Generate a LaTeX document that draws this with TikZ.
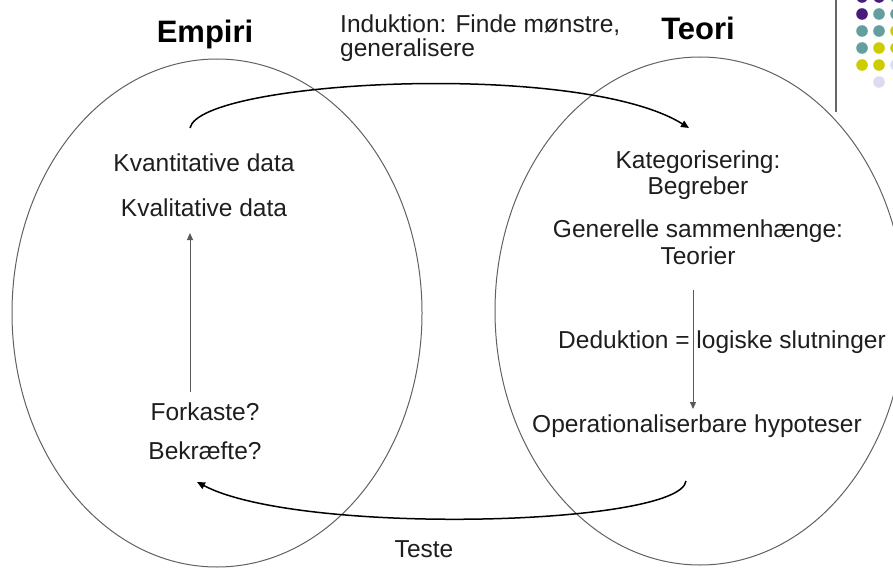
\documentclass[tikz,border=0pt]{standalone}
\usepackage{fontspec}
\setmainfont{Liberation Sans}
\usetikzlibrary{arrows.meta}
\definecolor{dpurple}{HTML}{4A1A7A}
\definecolor{dteal}{HTML}{659E9E}
\definecolor{dyellow}{HTML}{CCCC00}
\definecolor{dlav}{HTML}{DCDCF0}
\definecolor{txtc}{HTML}{1E1E1E}
\begin{document}
\begin{tikzpicture}[x=1pt,y=-1pt,
  txt/.style={font=\fontsize{24.5}{28}\selectfont, text=txtc, inner sep=0pt, anchor=base},
  ttl/.style={font=\fontsize{31}{36}\selectfont\bfseries, text=black, inner sep=0pt, anchor=base},
  ring/.style={draw=black!62, line width=1pt},
  flow/.style={draw=black, line width=1.5pt, -{Triangle[length=8pt,width=7pt]}},
  varrow/.style={draw=black!65, line width=1pt, -{Triangle[length=7pt,width=6pt]}},
  dot/.style={circle, inner sep=0pt, minimum size=11.6pt}]
\useasboundingbox (0,0) rectangle (893,567);
\clip (0,0) rectangle (893,567);

% ellipses
\draw[ring] (217,313) ellipse [x radius=205, y radius=254];
\draw[ring] (700,311) ellipse [x radius=205, y radius=254];

% decorative corner
\draw[black!60, line width=1.4pt] (836,0) -- (836,112);
\foreach \r/\y in {0/-3,1/14,2/31,3/48,4/65,5/82}{
  \foreach \c/\x in {0/862,1/879,2/896}{
    \pgfmathtruncatemacro{\s}{\r+\c}
    \ifnum\s<2 \def\col{dpurple}\fi
    \ifnum\s=2 \def\col{dteal}\fi
    \ifnum\s=3 \def\col{dteal}\fi
    \ifnum\s=4 \def\col{dyellow}\fi
    \ifnum\s=5 \def\col{dyellow}\fi
    \ifnum\s=6 \def\col{dlav}\fi
    \ifnum\s<7
      \ifnum\r=5 \ifnum\c=0 \def\col{white}\fi\fi
      \node[dot, fill=\col] (d\r\c) at (\x,\y) {};
    \fi
  }
}

% titles
\node[ttl] (empiri) at (205,43) {Empiri};
\node[ttl] (teori) at (698,40) {Teori};

% induction label
\node[txt, anchor=base west] (ind1) at (340,33) {Induktion: Finde mønstre,};
\node[txt, anchor=base west] (ind2) at (340,57) {generalisere};

% left texts
\node[txt] (kvant) at (204,171) {Kvantitative data};
\node[txt] (kval) at (204,216) {Kvalitative data};
\node[txt] (fork) at (205,420) {Forkaste?};
\node[txt] (bekr) at (205,459) {Bekræfte?};

% right texts
\node[txt] (kat) at (698,168) {Kategorisering:};
\node[txt] (begr) at (698,194) {Begreber};
\node[txt] (gen) at (698,237) {Generelle sammenhænge:};
\node[txt] (teorier) at (698,264) {Teorier};
\node[txt] (ded) at (722,348) {Deduktion = logiske slutninger};
\node[txt] (oper) at (697,432) {Operationaliserbare hypoteser};

% bottom label
\node[txt] (teste) at (424,557) {Teste};

% connector end points
\coordinate (indS) at (190,128);
\coordinate (indE) at (689,128);
\coordinate (tstS) at (686,481);
\coordinate (tstE) at (197,482);
\coordinate (upS) at (190,392);
\coordinate (upE) at (190,233);
\coordinate (dnS) at (693,290);
\coordinate (dnE) at (693,409);

% connectors
\draw[flow] (indS) .. controls (200,80) and (580,60) .. (indE);
\draw[flow] (tstS) .. controls (680,526) and (300,536) .. (tstE);
\draw[varrow] (upS) -- (upE);
\draw[varrow] (dnS) -- (dnE);
\end{tikzpicture}
\end{document}
